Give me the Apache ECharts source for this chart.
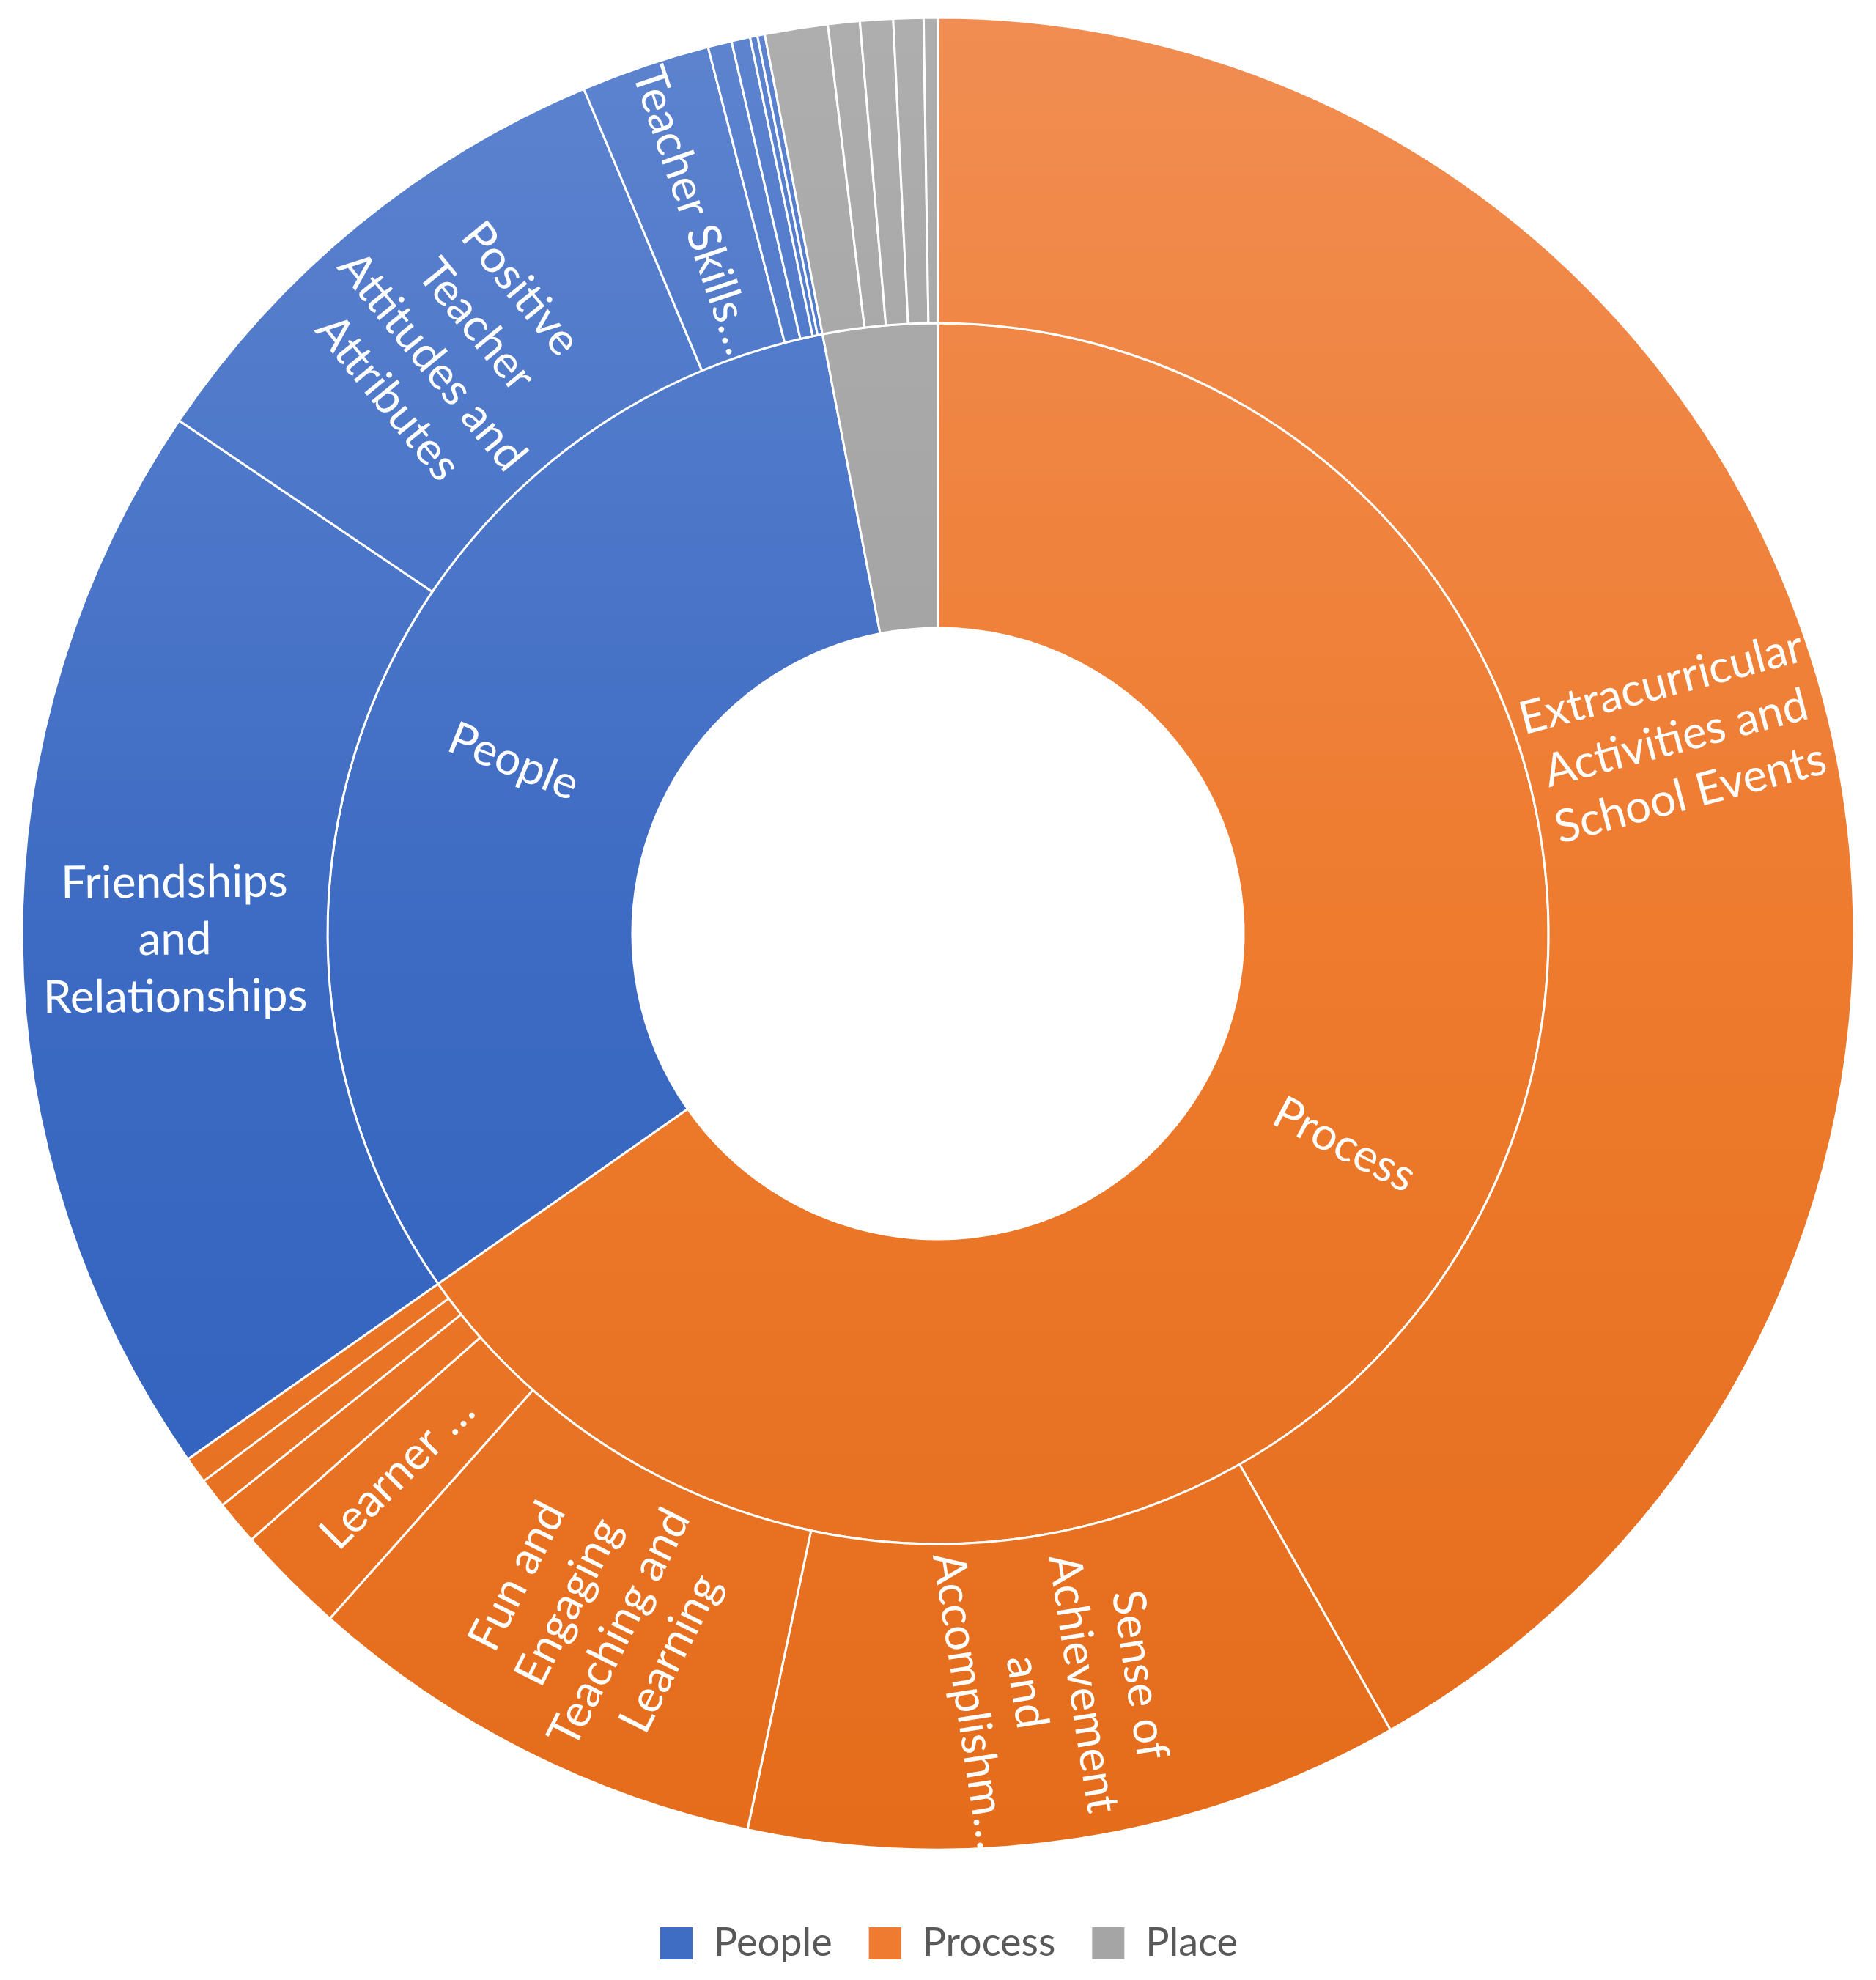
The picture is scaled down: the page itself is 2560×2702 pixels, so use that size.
<!DOCTYPE html>
<html><head><meta charset="utf-8">
<script src="https://cdn.jsdelivr.net/npm/echarts@6/dist/echarts.min.js"></script>
<style>html,body{margin:0;padding:0;background:#fff}#chart{width:2560px;height:2702px}</style>
</head><body><div id="chart"></div>
<script>
// ---- data (shares of all coded responses, %) ----
const groupNames = ['Process', 'People', 'Place'];
const legendNames = ['People', 'Process', 'Place'];

const processNames = ['Extracurricular Activities and School Events', 'Sense of Achievement and Accomplishment', 'Fun and Engaging Teaching and Learning', 'Learner', 'Process 5', 'Process 6', 'Process 7'];
const processValues = [41.78, 11.56, 8.22, 1.94, 0.78, 0.53, 0.47];
const processLabels = ['Extracurricular\nActivities and\nSchool Events', 'Sense of\nAchievement\nand\nAccomplishm…', 'Fun and\nEngaging\nTeaching and\nLearning', 'Learner …', '', '', ''];

const peopleNames = ['Friendships and Relationships', 'Positive Teacher Attitudes and Attributes', 'Teacher Skills', 'People 4', 'People 5', 'People 6', 'People 7'];
const peopleValues = [19.19, 9.22, 2.28, 0.42, 0.33, 0.13, 0.13];
const peopleLabels = ['Friendships\nand\nRelationships', 'Positive\nTeacher\nAttitudes and\nAttributes', 'Teacher Skills…', '', '', '', ''];

const placeNames = ['Place 1', 'Place 2', 'Place 3', 'Place 4', 'Place 5'];
const placeValues = [1.11, 0.56, 0.58, 0.53, 0.25];
const placeLabels = ['', '', '', '', ''];

// ---- styling ----
const TOP = 23, BOTTOM = 2527;
function grad(stops) {
  return { type: 'linear', x: 0, y: TOP, x2: 0, y2: BOTTOM, global: true,
    colorStops: stops.map(s => ({ offset: s[0], color: s[1] })) };
}
const fills = {
  People: grad([[0, '#5E84CF'], [0.5, '#3D6BC3'], [1, '#2D5FBC']]),
  Process: grad([[0, '#F18D52'], [0.5, '#EE7B2E'], [1, '#E46C1B']]),
  Place: grad([[0, '#AEAEAE'], [0.4, '#A3A3A3'], [1, '#999999']])
};
const legendColors = { People: '#3F6DC4', Process: '#EE7B30', Place: '#A5A5A5' };

function children(names, values, labels, group) {
  return names.map((n, i) => ({
    name: n,
    value: values[i],
    itemStyle: { color: fills[group] },
    label: labels[i] ? { show: true, formatter: labels[i] } : { show: false }
  }));
}
const childSets = {
  Process: children(processNames, processValues, processLabels, 'Process'),
  People: children(peopleNames, peopleValues, peopleLabels, 'People'),
  Place: children(placeNames, placeValues, placeLabels, 'Place')
};
const treeData = groupNames.map(g => ({
  name: g,
  itemStyle: { color: fills[g] },
  label: g === 'Place' ? { show: false } : { show: true, formatter: g },
  children: childSets[g]
}));

const labelBase = { rotate: 'radial', color: '#ffffff', fontFamily: 'Lato', fontSize: 62, lineHeight: 78, align: 'center' };

const chart = echarts.init(document.getElementById('chart'), null, { renderer: 'canvas' });
chart.setOption({
  animation: false,
  backgroundColor: '#ffffff',
  legend: {
    data: legendNames,
    left: 896,
    top: 2620,
    itemWidth: 44,
    itemHeight: 44,
    itemGap: 50,
    icon: 'rect',
    textStyle: { color: '#595959', fontFamily: 'Lato', fontSize: 54, padding: [0, 0, 0, 24] }
  },
  series: [
    {
      type: 'sunburst',
      center: [1280, 1274],
      radius: [417, 1250],
      startAngle: 90,
      clockwise: true,
      sort: null,
      nodeClick: false,
      emphasis: { disabled: true },
      data: treeData,
      itemStyle: { borderColor: '#ffffff', borderWidth: 3 },
      label: labelBase,
      levels: [
        {},
        { r0: 417, r: 833, label: labelBase },
        { r0: 833, r: 1250, label: labelBase }
      ]
    },
    {
      type: 'pie',
      silent: true,
      center: [1280, 1274],
      radius: [0, 0],
      label: { show: false },
      labelLine: { show: false },
      data: legendNames.map(n => ({ name: n, value: 0, itemStyle: { color: legendColors[n] } }))
    }
  ]
});
</script></body></html>
